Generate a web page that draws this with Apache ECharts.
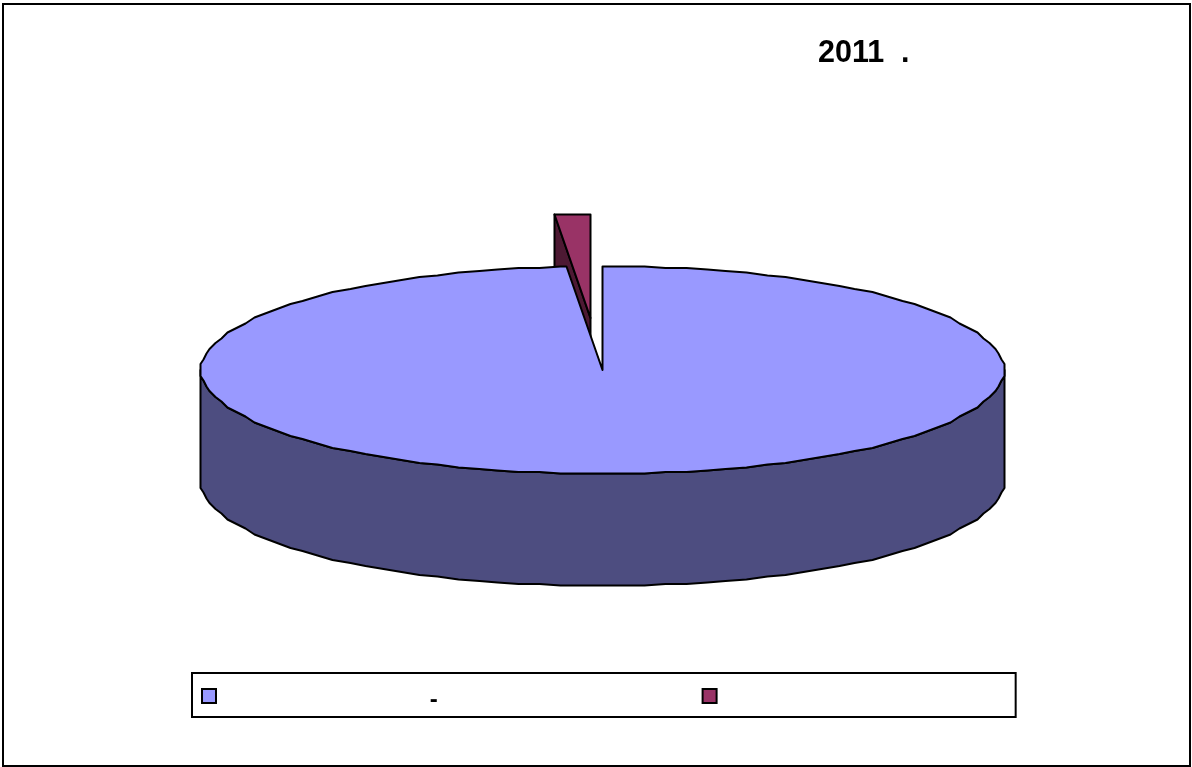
<!DOCTYPE html>
<html><head><meta charset="utf-8">
<style>html,body{margin:0;padding:0;background:#fff}#c{width:1192px;height:767px}</style>
<script src="https://cdn.jsdelivr.net/npm/echarts@6/dist/echarts.min.js"></script>
</head><body><div id="c"></div>
<script>
const titleText = '2011\u00a0\u00a0.';
const seriesNames = ['\u00a0'.repeat(31) + '-', '\u00a0'];
const shareMain = [98.6];
const shareMinor = [1.4];

const total = shareMain[0] + shareMinor[0];
const CX = 602.5, CY = 370, RX = 402, RY = 104, DEPTH = 112, STEP = 3, GX = 3, GY = 1.5;
const EXPLODE = [-12, -52];
const pt = (deg, dx, dy) => {
  const r = deg * Math.PI / 180;
  const ox = Math.round(RX * Math.sin(r) / GX) * GX;
  const oy = Math.round(-RY * Math.cos(r) / GY) * GY;
  return [CX + dx + ox, CY + dy + oy];
};
const arc = (a, b, dx, dy) => {
  const out = [];
  const dir = b > a ? 1 : -1;
  for (let d = a; dir * (d - b) < 0; d += dir * STEP) out.push(pt(d, dx, dy));
  out.push(pt(b, dx, dy));
  return out;
};
const stroke = { stroke: '#000', lineWidth: 2, lineJoin: 'round' };
const poly = (points, fill) => ({
  type: 'polygon', shape: { points }, style: Object.assign({ fill }, stroke)
});

function renderMain(params, api) {
  const end = 360 * api.value(0) / total;
  const front = arc(90, 270, 0, 0);
  const side = front.concat(arc(270, 90, 0, DEPTH));
  const top = [[CX, CY]].concat(arc(0, end, 0, 0));
  return { type: 'group', children: [poly(side, '#4D4D80'), poly(top, '#9999FF')] };
}
function renderMinor(params, api) {
  const start = 360 - 360 * api.value(0) / total;
  const [dx, dy] = EXPLODE;
  const apex = [CX + dx, CY + dy];
  const a = pt(start, dx, dy);
  const cut = [apex, a, [a[0], a[1] + DEPTH], [apex[0], apex[1] + DEPTH]];
  const top = [apex].concat(arc(start, 360, dx, dy));
  return { type: 'group', children: [poly(cut, '#4D1933'), poly(top, '#993366')] };
}

const chart = echarts.init(document.getElementById('c'), null, { renderer: 'canvas' });
chart.setOption({
  animation: false,
  backgroundColor: '#fff',
  title: {
    text: titleText, left: 818, top: 38, padding: 0,
    textStyle: { fontFamily: '"Liberation Sans"', fontWeight: 'bold', fontSize: 30.5, color: '#000' }
  },
  legend: {
    left: 192, top: 673, orient: 'horizontal', selectedMode: false,
    padding: [15, 285.4, 5, 9], itemGap: 263.9, itemWidth: 14, itemHeight: 14, itemTextGap: 10,
    borderColor: '#000', borderWidth: 2, backgroundColor: '#fff', icon: 'rect',
    formatter: '{a|{name}}',
    textStyle: {
      fontFamily: '"Liberation Sans"', fontWeight: 'bold', fontSize: 24, color: '#000',
      rich: { a: { fontFamily: '"Liberation Sans"', fontWeight: 'bold', fontSize: 24, color: '#000',
                   padding: [8, 0, 0, 2] } }
    },
    data: [
      { name: seriesNames[0], itemStyle: { color: '#9999FF', borderColor: '#000', borderWidth: 2 } },
      { name: seriesNames[1], itemStyle: { color: '#993366', borderColor: '#000', borderWidth: 2 } }
    ]
  },
  graphic: [{
    type: 'rect', z: -10, silent: true,
    shape: { x: 3, y: 4, width: 1187, height: 762 },
    style: { fill: '#fff', stroke: '#000', lineWidth: 2 }
  }],
  series: [
    { type: 'custom', name: seriesNames[1], coordinateSystem: 'none', z: 2, silent: true,
      itemStyle: { color: '#993366' }, renderItem: renderMinor, data: shareMinor },
    { type: 'custom', name: seriesNames[0], coordinateSystem: 'none', z: 3, silent: true,
      itemStyle: { color: '#9999FF' }, renderItem: renderMain, data: shareMain }
  ]
});
</script></body></html>
